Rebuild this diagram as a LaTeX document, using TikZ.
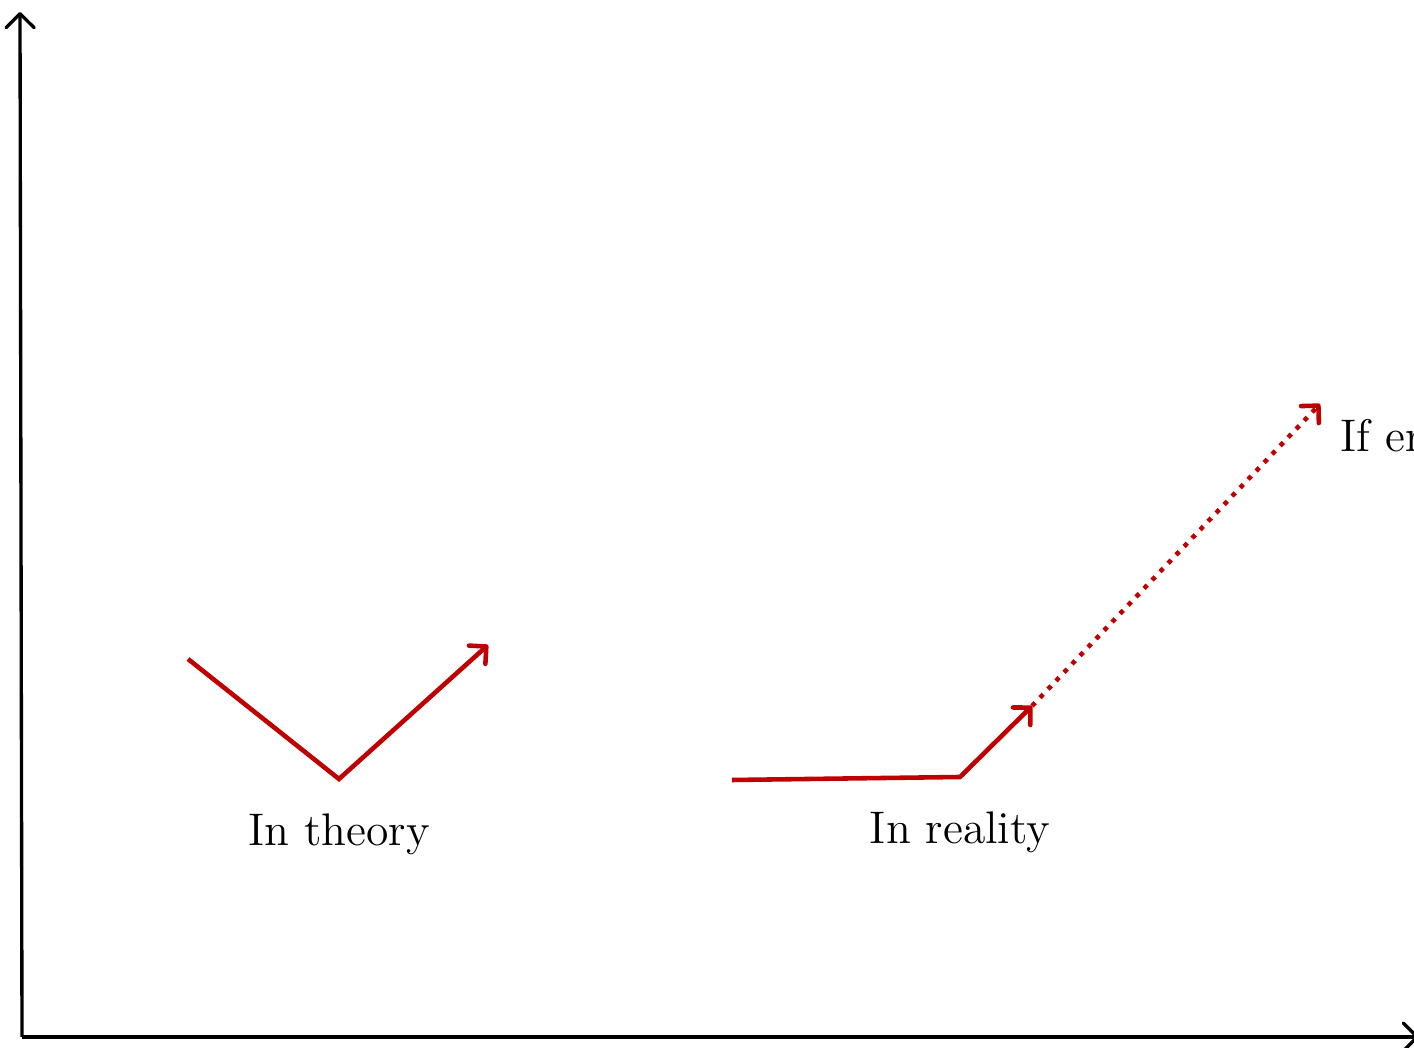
\documentclass[tikz,border=0pt]{standalone}
\usepackage{tikz}
\usetikzlibrary{arrows.meta,positioning}
\definecolor{darkred}{RGB}{192,0,0}

\begin{document}
\begin{tikzpicture}[x=1cm,y=1cm]
  \tikzstyle{axis}=[line width=0.95pt,black,-{Straight Barb[round,length=4pt,width=8pt]}]
  \tikzstyle{path}=[line width=1.3pt,darkred]
  \tikzstyle{tip}=[-{Straight Barb[round,length=3.5pt,width=7pt]}]
  \tikzstyle{label}=[font=\fontsize{13}{15}\selectfont]
  \useasboundingbox (0,0) rectangle (14.14,10.48);
  % axes
  \coordinate (o) at (0.22,0.11);
  \coordinate (ytop) at (0.20,10.36);
  \coordinate (xend) at (14.19,0.11);
  \draw[axis] (o) -- (ytop);
  \draw[axis] (o) -- (xend);
  % in theory
  \coordinate (t1) at (1.88,3.89);
  \coordinate (t2) at (3.39,2.69);
  \coordinate (t3) at (4.88,4.03);
  \draw[path,tip] (t1) -- (t2) -- (t3);
  \node[label,below=0.22cm of t2] (theory) {In theory};
  % in reality
  \coordinate (r1) at (7.32,2.68);
  \coordinate (r2) at (9.60,2.71);
  \coordinate (r3) at (10.32,3.42);
  \coordinate (r4) at (13.20,6.44);
  \draw[path,tip] (r1) -- (r2) -- (r3);
  \draw[path,tip,dotted] (r3) -- (r4);
  \node[label,below=0.22cm of r2] (reality) {In reality};
  \node[label,anchor=base west,inner sep=0pt] (ifer) at (13.40,5.96) {If er};
\end{tikzpicture}
\end{document}
